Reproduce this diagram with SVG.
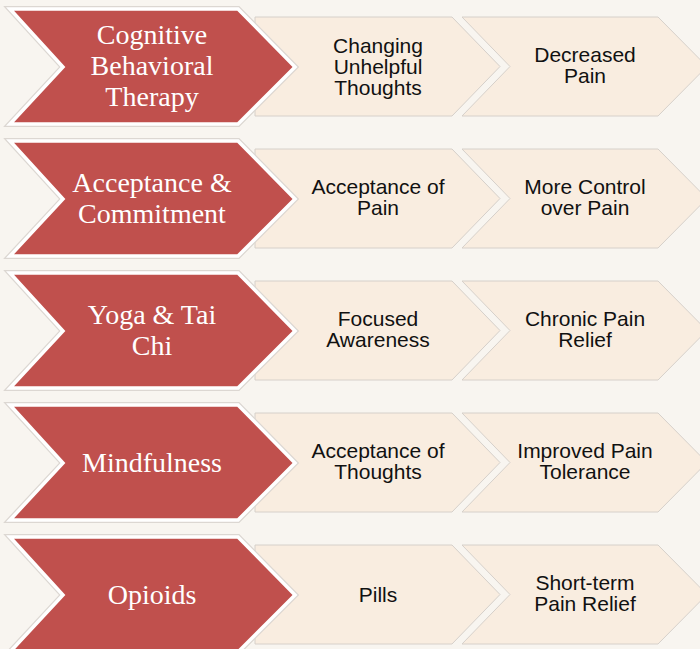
<svg xmlns="http://www.w3.org/2000/svg" width="700" height="649" viewBox="0 0 700 649">
<defs>
<style>
.bg{fill:#F8F5F0}
.redo{fill:none;stroke:#dcd7d2;stroke-width:6;stroke-linejoin:miter}
.red{fill:#C0504D;stroke:#FFFFFF;stroke-width:3.5;stroke-linejoin:miter}
.beige{fill:#F9EDE0;stroke:#d6d0ca;stroke-width:1}
.rt{font-family:"Liberation Serif","Times New Roman",serif;font-size:28px;fill:#FFFFFF;text-anchor:middle}
.bt{font-family:"Liberation Sans",Arial,sans-serif;font-size:21px;fill:#111111;text-anchor:middle}
</style>
<polygon id="redShape" points="10,9 238,9 295,67 238,124 10,124 63,67"/>
<polygon id="b2Shape" points="255,17 452,17 500,66.5 452,116 255,116"/>
<polygon id="b3Shape" points="462,17 658,17 707,66.5 658,116 462,116 510,66.5"/>
</defs>
<rect class="bg" x="0" y="0" width="700" height="649"/>
<g id="connectors"></g>

<g id="row1" transform="translate(0,0)">
<g id="n1a"><use href="#b3Shape" class="beige"/></g>
<g id="n1b"><use href="#b2Shape" class="beige"/></g>
<g id="n1"><use href="#redShape" class="redo"/><use href="#redShape" class="red"/>
<text class="rt" x="152" y="44">Cognitive</text><text class="rt" x="152" y="75">Behavioral</text><text class="rt" x="152" y="106">Therapy</text></g>
<text class="bt" x="378" y="52.5">Changing</text><text class="bt" x="378" y="73.5">Unhelpful</text><text class="bt" x="378" y="94.5">Thoughts</text>
<text class="bt" x="585" y="62">Decreased</text><text class="bt" x="585" y="83">Pain</text>
</g>

<g id="row2" transform="translate(0,132)">
<g id="n2a"><use href="#b3Shape" class="beige"/></g>
<g id="n2b"><use href="#b2Shape" class="beige"/></g>
<g id="n2"><use href="#redShape" class="redo"/><use href="#redShape" class="red"/>
<text class="rt" x="152" y="59.5">Acceptance &amp;</text><text class="rt" x="152" y="90.5">Commitment</text></g>
<text class="bt" x="378" y="62">Acceptance of</text><text class="bt" x="378" y="83">Pain</text>
<text class="bt" x="585" y="62">More Control</text><text class="bt" x="585" y="83">over Pain</text>
</g>

<g id="row3" transform="translate(0,264)">
<g id="n3a"><use href="#b3Shape" class="beige"/></g>
<g id="n3b"><use href="#b2Shape" class="beige"/></g>
<g id="n3"><use href="#redShape" class="redo"/><use href="#redShape" class="red"/>
<text class="rt" x="152" y="59.5">Yoga &amp; Tai</text><text class="rt" x="152" y="90.5">Chi</text></g>
<text class="bt" x="378" y="62">Focused</text><text class="bt" x="378" y="83">Awareness</text>
<text class="bt" x="585" y="62">Chronic Pain</text><text class="bt" x="585" y="83">Relief</text>
</g>

<g id="row4" transform="translate(0,396)">
<g id="n4a"><use href="#b3Shape" class="beige"/></g>
<g id="n4b"><use href="#b2Shape" class="beige"/></g>
<g id="n4"><use href="#redShape" class="redo"/><use href="#redShape" class="red"/>
<text class="rt" x="152" y="75.5">Mindfulness</text></g>
<text class="bt" x="378" y="62">Acceptance of</text><text class="bt" x="378" y="83">Thoughts</text>
<text class="bt" x="585" y="62">Improved Pain</text><text class="bt" x="585" y="83">Tolerance</text>
</g>

<g id="row5" transform="translate(0,528)">
<g id="n5a"><use href="#b3Shape" class="beige"/></g>
<g id="n5b"><use href="#b2Shape" class="beige"/></g>
<g id="n5"><use href="#redShape" class="redo"/><use href="#redShape" class="red"/>
<text class="rt" x="152" y="75.5">Opioids</text></g>
<text class="bt" x="378" y="73.5">Pills</text>
<text class="bt" x="585" y="62">Short-term</text><text class="bt" x="585" y="83">Pain Relief</text>
</g>
</svg>
